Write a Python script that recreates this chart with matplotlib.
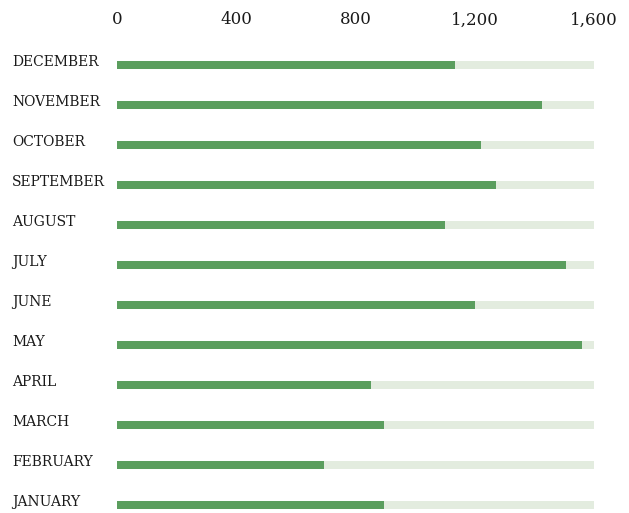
"""Monthly totals as thin horizontal progress bars against a 1,600 track."""

from matplotlib import pyplot as plt
from matplotlib.ticker import FuncFormatter
import matplotlib.transforms as mtransforms

MONTHS = ["January", "February", "March", "April", "May", "June",
          "July", "August", "September", "October", "November", "December"]
VALUES = [896, 694, 896, 852, 1560, 1201, 1506, 1100, 1271, 1221, 1426, 1134]
TRACK_MAX = 1600
X_TICKS = [0, 400, 800, 1200, 1600]

BAR_COLOR = "#5b9e5e"
TRACK_COLOR = "#e3ecdf"
TEXT_COLOR = "#1a1a1a"
FONT = "DejaVu Serif"
BAR_HEIGHT = 0.2

fig = plt.figure(figsize=(6.29, 5.13), dpi=100)
ax = fig.add_axes([117 / 629, 0, 477 / 629, 468 / 513])

ys = list(range(len(MONTHS)))
ax.barh(ys, [TRACK_MAX] * len(MONTHS), height=BAR_HEIGHT, color=TRACK_COLOR)
ax.barh(ys, VALUES, height=BAR_HEIGHT, color=BAR_COLOR)

ax.set_xlim(0, TRACK_MAX)
ax.set_ylim(-0.2, len(MONTHS) - 0.5)

ax.xaxis.tick_top()
ax.set_xticks(X_TICKS)
ax.xaxis.set_major_formatter(FuncFormatter(lambda v, _: f"{int(v):,}"))
ax.tick_params(axis="x", length=0, pad=12, labelsize=12, labelcolor=TEXT_COLOR)
for lbl in ax.get_xticklabels():
    lbl.set_fontfamily(FONT)
ax.set_yticks([])
for s in ax.spines.values():
    s.set_visible(False)

trans = mtransforms.blended_transform_factory(fig.transFigure, ax.transData)
for y, m in zip(ys, MONTHS):
    ax.text(12 / 629, y + 0.08, m.upper(), transform=trans, ha="left",
            va="center", fontsize=10, family=FONT, color=TEXT_COLOR)

fig.savefig("out.png", dpi=100)
